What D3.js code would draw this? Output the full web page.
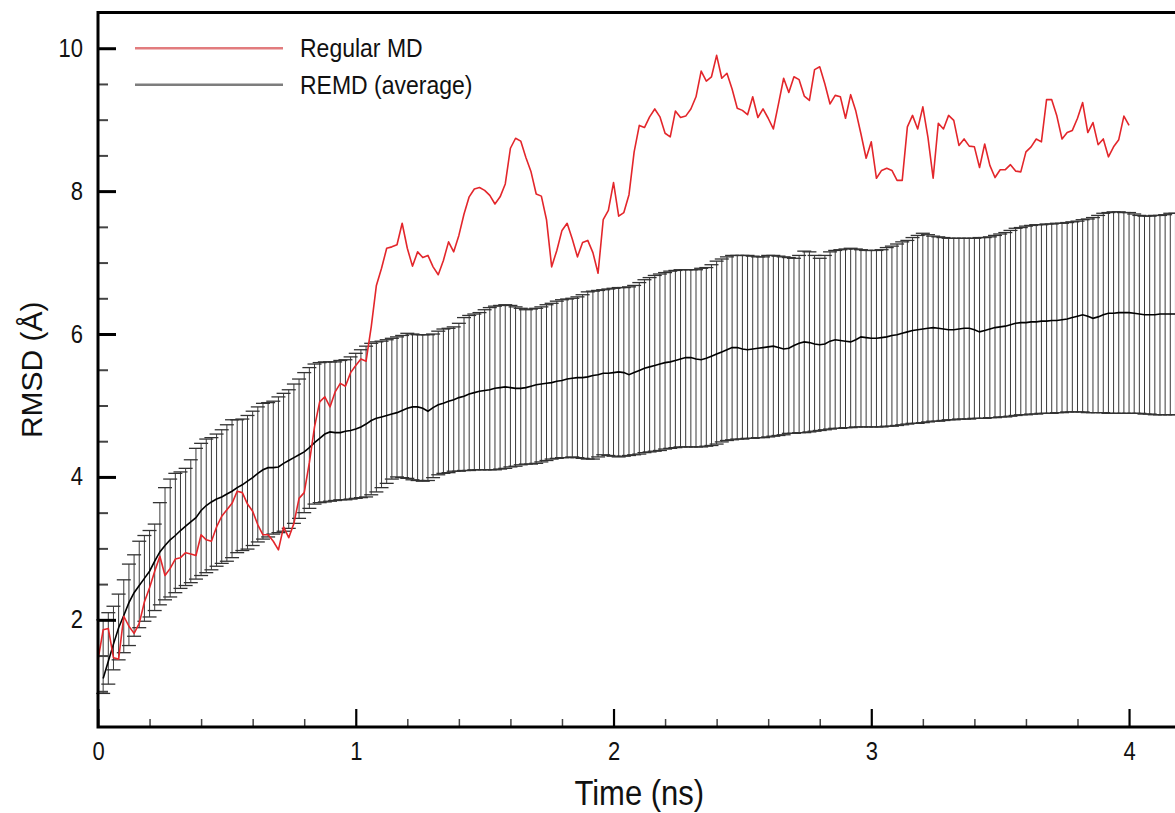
<!DOCTYPE html>
<html>
<head>
<meta charset="utf-8">
<script src="https://cdnjs.cloudflare.com/ajax/libs/d3/7.8.5/d3.min.js"></script>
<style>
  body { margin: 0; background: #fff; overflow: hidden; }
  text { font-family: "Liberation Sans", Arial, Helvetica, sans-serif; fill: #111; }
</style>
</head>
<body>
<div id="chart"></div>
<script>
// Regular MD run, one value every 0.02 ns from t = 0
var regularStep = 0.02;
var regularMd = [
  1.44,1.86,1.88,1.47,1.45,2.05,1.91,1.81,1.95,2.25,
  2.45,2.68,2.89,2.62,2.72,2.85,2.87,2.94,2.92,2.90,
  3.19,3.12,3.10,3.30,3.45,3.54,3.63,3.80,3.78,3.62,
  3.52,3.33,3.19,3.19,3.10,2.98,3.30,3.15,3.35,3.70,
  3.78,4.20,4.70,5.05,5.12,4.98,5.19,5.31,5.27,5.46,
  5.56,5.65,5.62,6.10,6.68,6.92,7.20,7.22,7.25,7.55,
  7.20,6.95,7.15,7.07,7.10,6.94,6.83,7.03,7.29,7.15,
  7.38,7.68,7.92,8.03,8.05,8.01,7.94,7.82,7.92,8.10,
  8.60,8.74,8.70,8.47,8.27,7.96,7.93,7.60,6.94,7.17,
  7.45,7.55,7.33,7.08,7.28,7.31,7.14,6.85,7.60,7.73,
  8.12,7.65,7.70,7.95,8.55,8.92,8.89,9.04,9.15,9.04,
  8.81,8.76,9.12,9.03,9.05,9.15,9.32,9.68,9.54,9.60,
  9.90,9.58,9.65,9.43,9.16,9.13,9.07,9.32,9.03,9.15,
  9.02,8.87,9.22,9.58,9.38,9.60,9.56,9.33,9.27,9.70,
  9.74,9.50,9.22,9.34,9.32,9.02,9.35,9.12,8.80,8.46,
  8.69,8.18,8.29,8.32,8.29,8.15,8.15,8.90,9.06,8.87,
  9.18,8.75,8.18,8.95,8.87,9.06,8.99,8.64,8.73,8.63,
  8.62,8.33,8.66,8.36,8.19,8.30,8.30,8.37,8.28,8.27,
  8.55,8.62,8.73,8.69,9.28,9.28,9.05,8.73,8.82,8.85,
  9.02,9.24,8.82,8.96,8.65,8.73,8.48,8.62,8.72,9.05,
  8.92
];

// REMD average with the top and bottom of each error bar, every 0.02 ns from t = 0.02
var remdStart = 0.02, remdStep = 0.02;
var remdMean = [
  1.18,1.42,1.66,1.89,2.06,2.24,2.38,2.48,2.58,2.68,
  2.82,2.95,3.04,3.12,3.18,3.25,3.31,3.37,3.43,3.53,
  3.60,3.65,3.69,3.72,3.76,3.80,3.85,3.89,3.94,3.99,
  4.05,4.10,4.13,4.13,4.14,4.19,4.23,4.27,4.31,4.35,
  4.41,4.48,4.54,4.60,4.63,4.62,4.62,4.64,4.65,4.67,
  4.70,4.74,4.79,4.82,4.84,4.86,4.88,4.90,4.93,4.96,
  4.98,4.98,4.96,4.92,4.97,5.01,5.03,5.06,5.08,5.11,
  5.13,5.16,5.18,5.20,5.21,5.22,5.24,5.25,5.26,5.25,
  5.24,5.24,5.25,5.27,5.29,5.30,5.31,5.32,5.34,5.35,
  5.37,5.38,5.39,5.39,5.40,5.42,5.43,5.45,5.45,5.46,
  5.47,5.46,5.43,5.46,5.49,5.52,5.54,5.56,5.58,5.60,
  5.61,5.63,5.65,5.67,5.67,5.65,5.64,5.66,5.69,5.72,
  5.75,5.78,5.81,5.81,5.79,5.78,5.79,5.80,5.81,5.82,
  5.83,5.81,5.79,5.80,5.84,5.87,5.89,5.88,5.86,5.85,
  5.86,5.90,5.92,5.91,5.90,5.89,5.92,5.96,5.95,5.94,
  5.94,5.95,5.96,5.98,5.99,6.01,6.03,6.05,6.06,6.07,
  6.08,6.09,6.08,6.07,6.06,6.06,6.07,6.08,6.08,6.06,
  6.03,6.05,6.07,6.09,6.10,6.11,6.13,6.15,6.16,6.16,
  6.17,6.17,6.18,6.18,6.19,6.19,6.20,6.21,6.23,6.25,
  6.27,6.25,6.22,6.24,6.27,6.29,6.29,6.30,6.30,6.30,
  6.29,6.28,6.27,6.27,6.27,6.28,6.28,6.28,6.28
];
var remdUpper = [
  2.00,2.10,2.19,2.36,2.56,2.78,2.91,3.10,3.18,3.25,
  3.34,3.64,3.85,3.97,4.05,4.07,4.12,4.24,4.40,4.47,
  4.53,4.55,4.60,4.66,4.73,4.80,4.80,4.81,4.86,4.92,
  4.98,5.03,5.04,5.06,5.12,5.17,5.22,5.30,5.37,5.46,
  5.53,5.58,5.60,5.61,5.61,5.61,5.63,5.64,5.68,5.73,
  5.78,5.83,5.87,5.89,5.90,5.92,5.94,5.96,5.98,6.01,
  6.00,5.99,5.99,5.99,6.00,6.04,6.07,6.08,6.10,6.15,
  6.23,6.26,6.28,6.30,6.34,6.37,6.39,6.40,6.41,6.40,
  6.38,6.36,6.34,6.35,6.36,6.38,6.41,6.43,6.46,6.48,
  6.49,6.50,6.52,6.55,6.59,6.60,6.61,6.62,6.63,6.64,
  6.65,6.65,6.66,6.68,6.72,6.76,6.79,6.82,6.84,6.86,
  6.88,6.89,6.90,6.90,6.90,6.90,6.92,6.93,6.97,7.02,
  7.05,7.08,7.10,7.10,7.10,7.10,7.09,7.08,7.08,7.10,
  7.10,7.09,7.08,7.07,7.06,7.10,7.16,7.15,7.10,7.06,
  7.10,7.15,7.17,7.18,7.19,7.20,7.19,7.18,7.17,7.17,
  7.17,7.18,7.21,7.23,7.26,7.29,7.31,7.35,7.38,7.41,
  7.39,7.37,7.36,7.35,7.34,7.34,7.34,7.34,7.34,7.34,
  7.35,7.35,7.36,7.38,7.40,7.42,7.45,7.48,7.49,7.51,
  7.52,7.53,7.53,7.54,7.54,7.55,7.55,7.56,7.57,7.58,
  7.60,7.61,7.63,7.66,7.69,7.70,7.71,7.71,7.70,7.70,
  7.68,7.66,7.65,7.65,7.66,7.66,7.67,7.69,7.69
];
var remdLower = [
  0.97,1.10,1.30,1.44,1.54,1.64,1.77,1.89,1.98,2.04,
  2.13,2.21,2.28,2.32,2.38,2.44,2.48,2.52,2.57,2.62,
  2.66,2.70,2.75,2.79,2.82,2.87,2.94,2.97,2.99,3.04,
  3.09,3.13,3.16,3.20,3.22,3.24,3.28,3.35,3.42,3.50,
  3.56,3.62,3.64,3.65,3.66,3.67,3.68,3.68,3.69,3.70,
  3.71,3.72,3.75,3.79,3.85,3.91,3.97,4.00,3.99,3.98,
  3.96,3.95,3.94,3.95,3.99,4.03,4.05,4.06,4.08,4.08,
  4.09,4.09,4.10,4.10,4.10,4.10,4.10,4.11,4.12,4.14,
  4.15,4.17,4.18,4.18,4.19,4.21,4.23,4.25,4.26,4.27,
  4.27,4.28,4.27,4.26,4.25,4.25,4.28,4.31,4.30,4.29,
  4.28,4.29,4.30,4.31,4.32,4.34,4.35,4.36,4.37,4.39,
  4.40,4.41,4.42,4.42,4.42,4.42,4.42,4.43,4.44,4.46,
  4.49,4.51,4.52,4.53,4.53,4.54,4.54,4.55,4.55,4.56,
  4.57,4.58,4.59,4.61,4.61,4.62,4.62,4.63,4.64,4.65,
  4.66,4.67,4.68,4.68,4.69,4.69,4.70,4.70,4.70,4.70,
  4.70,4.70,4.71,4.71,4.72,4.73,4.74,4.75,4.75,4.76,
  4.77,4.78,4.78,4.79,4.80,4.80,4.81,4.81,4.81,4.82,
  4.82,4.82,4.83,4.83,4.84,4.84,4.85,4.86,4.87,4.87,
  4.88,4.88,4.89,4.89,4.89,4.90,4.90,4.91,4.91,4.91,
  4.91,4.90,4.90,4.90,4.90,4.89,4.89,4.89,4.89,4.89,
  4.89,4.89,4.88,4.88,4.87,4.87,4.87,4.87,4.87
];

var xTicks = [0, 1, 2, 3, 4];
var yTicks = [2, 4, 6, 8, 10];
var legendLabels = ["Regular MD", "REMD (average)"];

// Layout
var W = 1175, H = 813
  , m = {top: 12.5, left: 98}
  , w = 1082.6
  , h = 714.5
  , redColor = "#e3262b"
  , stretch = "scale(1,1.14)";   // the original lettering is a little taller than wide

var svg = d3.select("#chart").append("svg")
  .attr("width", W)
  .attr("height", H);

var g = svg.append("g")
  .attr("transform", "translate(" + m.left + "," + m.top + ")");

var x = d3.scaleLinear().domain([0, 4.2]).range([0, w]);
var y = d3.scaleLinear().domain([0.5, 10.5]).range([h, 0]);

var remd = remdMean.map(function(d, i) {
  return {t: remdStart + i * remdStep, mean: d, hi: remdUpper[i], lo: remdLower[i]};
});
var regular = regularMd.map(function(d, i) {
  return {t: i * regularStep, v: d};
});

// Error bars
var capHalf = 7;
var bars = g.append("g").attr("class", "errorbars");
bars.selectAll("line.stem")
  .data(remd).enter().append("line")
  .attr("class", "stem")
  .attr("x1", function(d) { return x(d.t); })
  .attr("x2", function(d) { return x(d.t); })
  .attr("y1", function(d) { return y(d.lo); })
  .attr("y2", function(d) { return y(d.hi); })
  .style("stroke", "#3a3a3a")
  .style("stroke-width", 1);
bars.selectAll("line.cap-hi")
  .data(remd).enter().append("line")
  .attr("class", "cap-hi")
  .attr("x1", function(d) { return x(d.t) - capHalf; })
  .attr("x2", function(d) { return x(d.t) + capHalf; })
  .attr("y1", function(d) { return y(d.hi); })
  .attr("y2", function(d) { return y(d.hi); })
  .style("stroke", "#333")
  .style("stroke-width", 1.3);
bars.selectAll("line.cap-lo")
  .data(remd).enter().append("line")
  .attr("class", "cap-lo")
  .attr("x1", function(d) { return x(d.t) - capHalf; })
  .attr("x2", function(d) { return x(d.t) + capHalf; })
  .attr("y1", function(d) { return y(d.lo); })
  .attr("y2", function(d) { return y(d.lo); })
  .style("stroke", "#333")
  .style("stroke-width", 1.3);

// Mean REMD line
var meanLine = d3.line()
  .x(function(d) { return x(d.t); })
  .y(function(d) { return y(d.mean); });
g.append("path")
  .datum(remd)
  .attr("d", meanLine)
  .style("fill", "none")
  .style("stroke", "#000")
  .style("stroke-width", 1.6);

// Regular MD line
var regLine = d3.line()
  .x(function(d) { return x(d.t); })
  .y(function(d) { return y(d.v); });
g.append("path")
  .datum(regular)
  .attr("d", regLine)
  .style("fill", "none")
  .style("stroke", redColor)
  .style("stroke-width", 1.6)
  .style("stroke-linejoin", "round");

// Axes (ticks point inward)
var xMinor = d3.range(0, 4.2001, 0.2).filter(function(v) { return Math.abs(v - Math.round(v)) > 1e-6; });
var yMinor = d3.range(1, 10.5001, 0.5).filter(function(v) { return Math.round(v) % 2 !== 0 || v % 1 !== 0; });

var xAxis = g.append("g")
  .attr("transform", "translate(0," + h + ")")
  .call(d3.axisBottom(x).tickValues(xTicks).tickSize(-18).tickPadding(13).tickFormat(d3.format("d")));
var xAxisMinor = g.append("g")
  .attr("transform", "translate(0," + h + ")")
  .call(d3.axisBottom(x).tickValues(xMinor).tickSize(-8).tickFormat(""));
var yAxis = g.append("g")
  .call(d3.axisLeft(y).tickValues(yTicks).tickSize(-18).tickPadding(15).tickFormat(d3.format("d")));
var yAxisMinor = g.append("g")
  .call(d3.axisLeft(y).tickValues(yMinor).tickSize(-10).tickFormat(""));

[xAxis, xAxisMinor, yAxis, yAxisMinor].forEach(function(a) { a.select(".domain").remove(); });
xAxis.selectAll(".tick line").style("stroke", "#000").style("stroke-width", 2.2);
yAxis.selectAll(".tick line").style("stroke", "#000").style("stroke-width", 3);
xAxisMinor.selectAll(".tick line").style("stroke", "#444").style("stroke-width", 1.5);
yAxisMinor.selectAll(".tick line").style("stroke", "#444").style("stroke-width", 2);
g.selectAll(".tick text")
  .attr("transform", stretch)
  .style("font-size", "22px")
  .style("font-family", "'Liberation Sans', Arial, sans-serif")
  .style("fill", "#111");

// Frame
g.append("rect")
  .attr("x", 0).attr("y", 0)
  .attr("width", w).attr("height", h)
  .style("fill", "none")
  .style("stroke", "#000")
  .style("stroke-width", 3);

// Axis titles
g.append("text")
  .attr("transform", "translate(" + (w / 2) + "," + (h + 78) + ") " + stretch)
  .attr("text-anchor", "middle")
  .style("font-size", "31px")
  .text("Time (ns)");
g.append("text")
  .attr("transform", "translate(" + (-56) + "," + (h / 2) + ") rotate(-90)")
  .attr("text-anchor", "middle")
  .style("font-size", "30px")
  .text("RMSD (Å)");

// Legend
var legend = g.append("g").attr("transform", "translate(37," + y(10) + ")");
var legendColors = ["#e27c7e", "#7d7d7d"];
legendLabels.forEach(function(label, i) {
  var row = legend.append("g").attr("transform", "translate(0," + (i * 36.5) + ")");
  row.append("line")
    .attr("x1", 0).attr("x2", 148)
    .style("stroke", legendColors[i])
    .style("stroke-width", 2.5);
  row.append("text")
    .attr("transform", "translate(165,0) " + stretch)
    .attr("dy", "0.35em")
    .style("font-size", "23px")
    .text(label);
});
</script>
</body>
</html>
